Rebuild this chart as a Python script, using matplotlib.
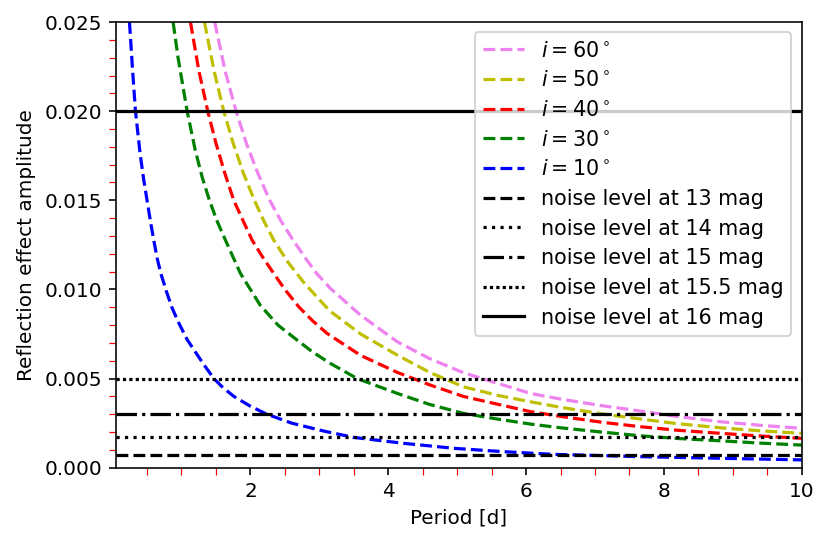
import numpy as np
import matplotlib
matplotlib.use('Agg')
import matplotlib.pyplot as plt
from matplotlib.ticker import MultipleLocator

# 数据 (振幅单位 1e-3)
p_i10 = [0.245, 0.29, 0.332, 0.40, 0.45, 0.50, 0.55, 0.60, 0.65, 0.70, 0.78,
         0.86, 0.95, 1.08, 1.20, 1.33, 1.47, 1.60, 1.76, 2.0, 2.24, 2.6,
         3.06, 3.5, 4.22, 4.95, 5.67, 6.4, 7.0, 7.66, 8.82, 10.0]
a_i10 = [25.0, 22.3, 20.0, 17.6, 16.2, 15.0, 13.8, 12.7, 11.7, 10.9, 9.9,
         9.0, 8.2, 7.2, 6.5, 5.75, 5.0, 4.5, 4.0, 3.45, 3.0, 2.5,
         2.06, 1.70, 1.37, 1.09, 0.90, 0.75, 0.69, 0.62, 0.53, 0.44]

p_i30 = [0.878, 0.95, 1.082, 1.2, 1.3, 1.405, 1.52, 1.637, 1.75, 1.855, 2.0,
         2.145, 2.4, 2.677, 2.9, 3.16, 3.55, 4.13, 4.6, 5.09, 5.6, 6.06,
         6.5, 7.1, 7.66, 8.2, 8.82, 9.4, 10.0]
a_i30 = [25.0, 23.0, 20.0, 17.8, 16.3, 15.0, 13.8, 12.77, 11.8, 10.9, 10.0,
         9.1, 8.0, 7.16, 6.5, 5.85, 5.0, 4.17, 3.55, 3.05, 2.72, 2.45,
         2.24, 2.0, 1.79, 1.64, 1.51, 1.38, 1.27]

p_i40 = [1.13, 1.25, 1.381, 1.5, 1.63, 1.758, 1.9, 2.024, 2.18, 2.338, 2.5,
         2.70, 2.9, 3.11, 3.6, 4.13, 4.6, 5.09, 5.6, 6.06, 6.5, 7.1, 7.66,
         8.2, 8.82, 9.4, 10.0]
a_i40 = [25.0, 22.3, 20.0, 18.2, 16.5, 15.0, 13.8, 12.77, 11.8, 10.9, 10.0,
         9.03, 8.25, 7.54, 6.3, 5.35, 4.65, 4.0, 3.55, 3.15, 2.88, 2.55, 2.3,
         2.1, 1.93, 1.78, 1.65]

p_i50 = [1.333, 1.47, 1.613, 1.75, 1.9, 2.058, 2.2, 2.338, 2.55, 2.773, 2.96,
         3.15, 3.6, 4.13, 4.6, 5.09, 5.6, 6.06, 6.5, 7.1, 7.66, 8.2, 8.82,
         9.4, 10.0]
a_i50 = [25.0, 22.3, 20.0, 18.2, 16.5, 15.0, 13.8, 12.77, 11.5, 10.4, 9.6,
         8.8, 7.5, 6.32, 5.35, 4.54, 4.05, 3.70, 3.39, 3.02, 2.73, 2.47, 2.24,
         2.07, 1.93]

p_i60 = [1.482, 1.63, 1.792, 1.95, 2.11, 2.28, 2.45, 2.619, 2.8, 2.96, 3.16,
         3.6, 4.13, 4.6, 5.09, 5.6, 6.06, 6.5, 7.1, 7.66, 8.2, 8.82, 9.4, 10.0]
a_i60 = [25.0, 22.3, 20.0, 18.1, 16.5, 15.0, 13.8, 12.77, 11.75, 10.9, 10.06,
         8.55, 7.07, 6.12, 5.33, 4.72, 4.17, 3.85, 3.48, 3.18, 2.87, 2.58,
         2.38, 2.21]

# 噪声水平
noise_mag = ['13', '14', '15', '15.5', '16']
noise_amp = [0.0007, 0.0017, 0.003, 0.005, 0.020]
noise_ls = ['--', ':', '-.', (0, (1, 1)), '-']

curves = [
    (p_i60, a_i60, 'violet', r'$i=60^\circ$'),
    (p_i50, a_i50, 'y', r'$i=50^\circ$'),
    (p_i40, a_i40, 'r', r'$i=40^\circ$'),
    (p_i30, a_i30, 'g', r'$i=30^\circ$'),
    (p_i10, a_i10, 'b', r'$i=10^\circ$'),
]

fig = plt.figure(figsize=(830 / 144, 545 / 144), dpi=144)
ax = fig.add_subplot(111)
fig.subplots_adjust(left=0.1398, right=0.9659, top=0.9596, bottom=0.1418)

for p, a, c, lab in curves:
    ax.plot(p, np.array(a) * 1e-3, '--', color=c, lw=1.6, label=lab)

for mag, amp, ls in zip(noise_mag, noise_amp, noise_ls):
    ax.axhline(amp, color='k', linestyle=ls, lw=1.6,
               label='noise level at %s mag' % mag)

ax.set_xlim(0.05, 10)
ax.set_ylim(0, 0.025)
ax.xaxis.set_major_locator(MultipleLocator(2))
ax.xaxis.set_minor_locator(MultipleLocator(0.5))
ax.yaxis.set_major_locator(MultipleLocator(0.005))
ax.yaxis.set_minor_locator(MultipleLocator(0.001))
ax.tick_params(which='minor', length=3.5, color='r')

ax.set_xlabel('Period [d]')
ax.set_ylabel('Reflection effect amplitude')
ax.legend(loc='upper right', fontsize=10.3, labelspacing=0.47)

fig.savefig('out.png', dpi=144)
